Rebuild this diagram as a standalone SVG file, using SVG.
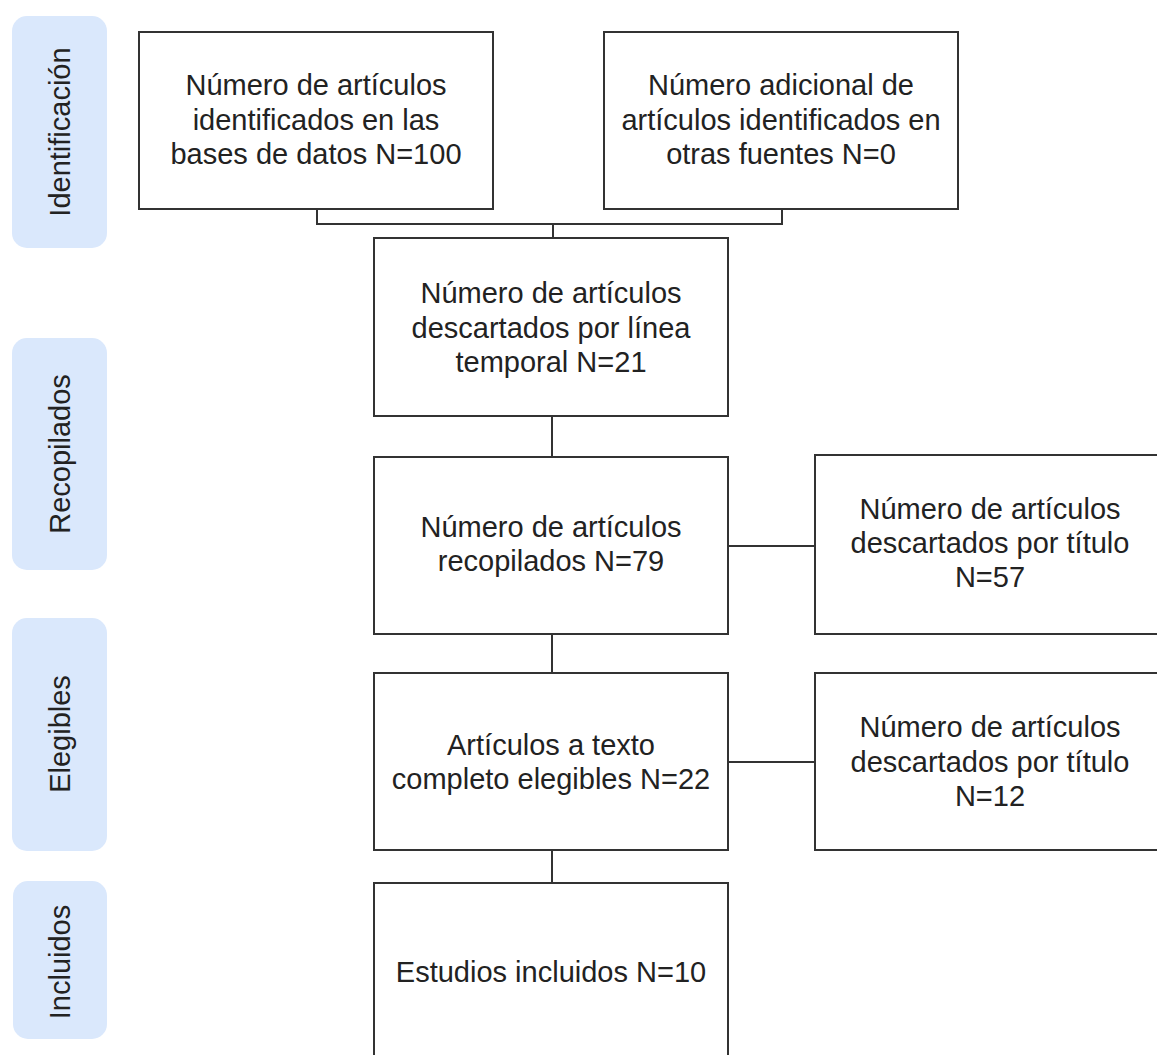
<svg xmlns="http://www.w3.org/2000/svg" width="1157" height="1055" viewBox="0 0 1157 1055">
<style>
.lane{fill:#dae8fc;stroke:none}
.box{fill:#ffffff;stroke:#333333;stroke-width:2}
.t{font-family:"Liberation Sans",Arial,sans-serif;font-size:29px;fill:#222222;text-anchor:middle}
.c{fill:none;stroke:#333333;stroke-width:2}
</style>
<rect width="1157" height="1055" fill="#ffffff"/>
<g id="lane-identificacion">
<rect class="lane" x="12" y="16" width="95" height="232" rx="15"/>
<text class="t" transform="translate(60,132) rotate(-90)" y="10.4">Identificación</text>
</g>
<g id="lane-recopilados">
<rect class="lane" x="12" y="338" width="95" height="232" rx="15"/>
<text class="t" transform="translate(60,454) rotate(-90)" y="10.4">Recopilados</text>
</g>
<g id="lane-elegibles">
<rect class="lane" x="12" y="618" width="95" height="233" rx="15"/>
<text class="t" transform="translate(60,734) rotate(-90)" y="10.4">Elegibles</text>
</g>
<g id="lane-incluidos">
<rect class="lane" x="13" y="881" width="94" height="158" rx="15"/>
<text class="t" transform="translate(60,962) rotate(-90)" y="10.4">Incluidos</text>
</g>
<g id="connectors">
<path class="c" d="M317,209 V224 H782 V209"/>
<path class="c" d="M553,224 V238"/>
<path class="c" d="M552,416 V457"/>
<path class="c" d="M552,634 V673"/>
<path class="c" d="M552,850 V883"/>
<path class="c" d="M728,546 H815"/>
<path class="c" d="M728,762 H815"/>
</g>
<g id="n-identificados">
<rect class="box" x="139" y="32" width="354" height="177"/>
<text class="t" x="316" y="95">Número de artículos</text>
<text class="t" x="316" y="130">identificados en las</text>
<text class="t" x="316" y="164">bases de datos N=100</text>
</g>
<g id="n-adicional">
<rect class="box" x="604" y="32" width="354" height="177"/>
<text class="t" x="781" y="95">Número adicional de</text>
<text class="t" x="781" y="130">artículos identificados en</text>
<text class="t" x="781" y="164">otras fuentes N=0</text>
</g>
<g id="n-temporal">
<rect class="box" x="374" y="238" width="354" height="178"/>
<text class="t" x="551" y="303">Número de artículos</text>
<text class="t" x="551" y="338">descartados por línea</text>
<text class="t" x="551" y="372">temporal N=21</text>
</g>
<g id="n-recopilados">
<rect class="box" x="374" y="457" width="354" height="177"/>
<text class="t" x="551" y="537">Número de artículos</text>
<text class="t" x="551" y="571">recopilados N=79</text>
</g>
<g id="n-titulo57">
<rect class="box" x="815" y="455" width="360" height="179"/>
<text class="t" x="990" y="519">Número de artículos</text>
<text class="t" x="990" y="553">descartados por título</text>
<text class="t" x="990" y="587">N=57</text>
</g>
<g id="n-elegibles">
<rect class="box" x="374" y="673" width="354" height="177"/>
<text class="t" x="551" y="755">Artículos a texto</text>
<text class="t" x="551" y="789">completo elegibles N=22</text>
</g>
<g id="n-titulo12">
<rect class="box" x="815" y="673" width="360" height="177"/>
<text class="t" x="990" y="737">Número de artículos</text>
<text class="t" x="990" y="772">descartados por título</text>
<text class="t" x="990" y="806">N=12</text>
</g>
<g id="n-incluidos">
<rect class="box" x="374" y="883" width="354" height="200"/>
<text class="t" x="551" y="982">Estudios incluidos N=10</text>
</g>
</svg>
